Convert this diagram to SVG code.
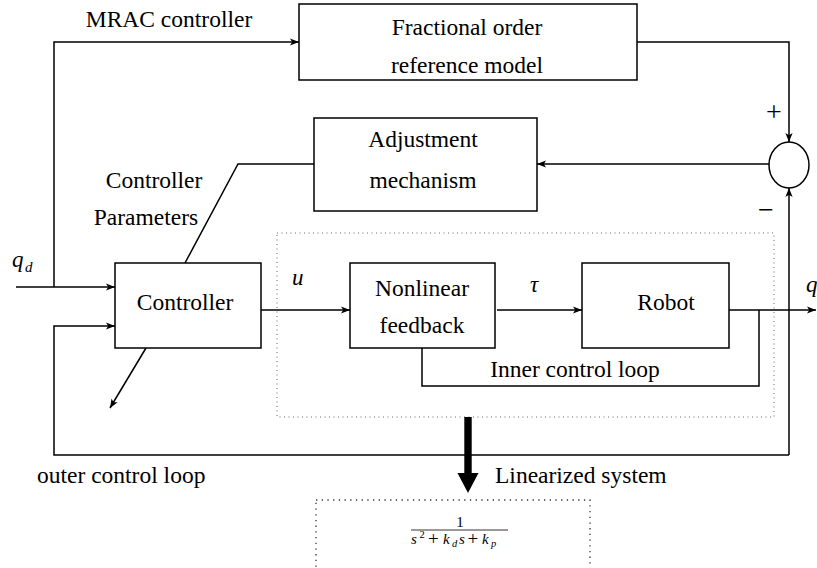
<svg xmlns="http://www.w3.org/2000/svg" width="817" height="568" viewBox="0 0 817 568">
<style>
  .box { fill: #fff; stroke: #000; stroke-width: 1.5; }
  .ln { fill: none; stroke: #000; stroke-width: 1.5; }
  .dot { fill: none; stroke: #666; stroke-width: 1; stroke-dasharray: 1 3.5; }
  .dot2 { fill: none; stroke: #333; stroke-width: 1.3; stroke-dasharray: 1.3 4.4; }
  text { font-family: 'Liberation Serif', 'DejaVu Serif', serif; fill: #000; }
  .t { font-size: 23.5px; }
  .c { text-anchor: middle; }
  .m { font-style: italic; }
</style>
<defs>
  <marker id="arr" viewBox="0 -5 10 10" refX="9" refY="0" markerWidth="10" markerHeight="10" markerUnits="userSpaceOnUse" orient="auto">
    <path d="M0,-3.6 L9,0 L0,3.6 L2.2,0 z" fill="#000"/>
  </marker>
</defs>

<!-- dotted inner region -->
<rect class="dot" x="277" y="233" width="497" height="184"/>
<!-- linearized system dotted box (clipped at bottom) -->
<rect class="dot2" x="316" y="500" width="274" height="90"/>

<g id="connectors">
  <path class="ln" d="M54,287 V42 H299" marker-end="url(#arr)"/>
  <path class="ln" d="M16,287 H115" marker-end="url(#arr)"/>
  <path class="ln" d="M637,42 H789 V142" marker-end="url(#arr)"/>
  <path class="ln" d="M769,164 H537" marker-end="url(#arr)"/>
  <path class="ln" d="M314,164 H238 L185,263"/>
  <path class="ln" d="M261,310 H350" marker-end="url(#arr)"/>
  <path class="ln" d="M497,310 H582" marker-end="url(#arr)"/>
  <path class="ln" d="M729,310 H816" marker-end="url(#arr)"/>
  <path class="ln" d="M759,310 V386 H422 V348"/>
  <path class="ln" d="M789,455 H54 V326 H115" marker-end="url(#arr)"/>
  <path class="ln" d="M789,455 V188" marker-end="url(#arr)"/>
  <path class="ln" d="M146,348 L110,408" marker-end="url(#arr)"/>
  <!-- thick arrow -->
  <rect x="464.3" y="417" width="7.4" height="58" fill="#000"/>
  <polygon points="457.5,473 478.5,473 468,493" fill="#000"/>
</g>

<g id="ref-model">
  <rect class="box" x="299" y="4" width="338" height="76"/>
  <text class="t c" x="467" y="35">Fractional order</text>
  <text class="t c" x="467" y="73">reference model</text>
</g>

<g id="sum">
  <ellipse class="box" cx="789" cy="165" rx="20" ry="23"/>
  <text class="c" x="774" y="121" font-size="28">+</text>
  <text class="c" x="766" y="219" font-size="28">−</text>
</g>

<g id="adjustment">
  <rect class="box" x="314" y="118" width="223" height="93"/>
  <text class="t c" x="423" y="147">Adjustment</text>
  <text class="t c" x="423" y="188">mechanism</text>
</g>

<g id="controller">
  <rect class="box" x="115" y="263" width="146" height="85"/>
  <text class="t c" x="185" y="310">Controller</text>
</g>

<g id="nonlinear">
  <rect class="box" x="350" y="263" width="145" height="85"/>
  <text class="t c" x="422" y="296">Nonlinear</text>
  <text class="t c" x="422" y="333">feedback</text>
</g>

<g id="robot">
  <rect class="box" x="582" y="263" width="147" height="85"/>
  <text class="t c" x="666" y="310">Robot</text>
</g>

<g id="labels">
  <text class="t c" x="169" y="27">MRAC controller</text>
  <text class="t c" x="154" y="188">Controller</text>
  <text class="t c" x="146" y="225">Parameters</text>
  <text class="t c" x="575" y="377">Inner control loop</text>
  <text class="t" x="37" y="483">outer control loop</text>
  <text class="t" x="495" y="483">Linearized system</text>
  <text class="m" x="12" y="267" font-size="23">q</text>
  <text class="m" x="25" y="272" font-size="15">d</text>
  <text class="m" x="292" y="285" font-size="23">u</text>
  <text class="m" x="530" y="292" font-size="23">τ</text>
  <text class="m" x="806" y="292" font-size="23">q</text>
</g>

<g id="linearized">
  <text x="460" y="527" font-size="15" text-anchor="middle">1</text>
  <line x1="411" y1="530" x2="508" y2="530" stroke="#000" stroke-width="0.8"/>
  <text class="m" x="411" y="544" font-size="15">s</text>
  <text x="419.5" y="538" font-size="10.5">2</text>
  <text x="428" y="545" font-size="19">+</text>
  <text class="m" x="443" y="544" font-size="15">k</text>
  <text class="m" x="452" y="547" font-size="10.5">d</text>
  <text class="m" x="459" y="544" font-size="15">s</text>
  <text x="467.5" y="545" font-size="19">+</text>
  <text class="m" x="482" y="544" font-size="15">k</text>
  <text class="m" x="491" y="547" font-size="10.5">p</text>
</g>
</svg>
